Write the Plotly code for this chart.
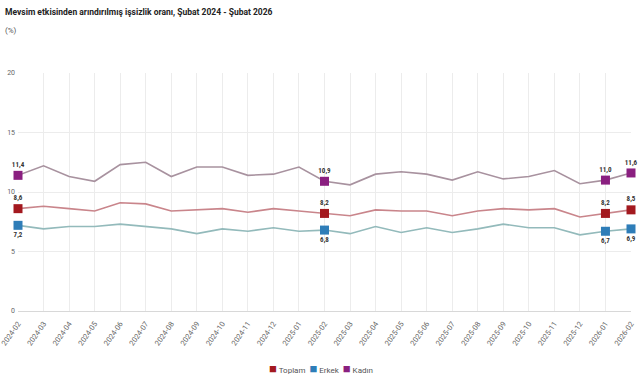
import plotly.graph_objects as go

months = ["2024-02","2024-03","2024-04","2024-05","2024-06","2024-07","2024-08","2024-09",
          "2024-10","2024-11","2024-12","2025-01","2025-02","2025-03","2025-04","2025-05",
          "2025-06","2025-07","2025-08","2025-09","2025-10","2025-11","2025-12","2026-01","2026-02"]
toplam = [8.6,8.8,8.6,8.4,9.1,9.0,8.4,8.5,8.6,8.3,8.6,8.4,8.2,8.0,8.5,8.4,
          8.4,8.0,8.4,8.6,8.5,8.6,7.9,8.2,8.5]
erkek  = [7.2,6.9,7.1,7.1,7.3,7.1,6.9,6.5,6.9,6.7,7.0,6.7,6.8,6.5,7.1,6.6,
          7.0,6.6,6.9,7.3,7.0,7.0,6.4,6.7,6.9]
kadin  = [11.4,12.2,11.3,10.9,12.3,12.5,11.3,12.1,12.1,11.4,11.5,12.1,10.9,10.6,11.5,11.7,
          11.5,11.0,11.7,11.1,11.3,11.8,10.7,11.0,11.6]
labeled_idx = [0, 12, 23, 24]
y_ticks = [0, 5, 10, 15, 20]

series = [
    ("Toplam", toplam, "#c9858b", "#a3191f", "top center"),
    ("Erkek", erkek, "#93babb", "#2e7db8", "bottom center"),
    ("Kadın", kadin, "#a8929f", "#8a1f80", "top center"),
]

fig = go.Figure()
for name, vals, lc, mc, pos in series:
    fig.add_trace(go.Scatter(x=months, y=vals, mode="lines", line=dict(color=lc, width=1.6),
                             showlegend=False, hoverinfo="skip"))
for name, vals, lc, mc, pos in series:
    xs = [months[i] for i in labeled_idx]
    ys = [vals[i] for i in labeled_idx]
    txt = [f"<b>{v:.1f}</b>".replace(".", ",") for v in ys]
    fig.add_trace(go.Scatter(x=xs, y=ys, mode="markers+text", name=name, showlegend=False,
                             marker=dict(symbol="square", size=9, color=mc),
                             text=txt, textposition=pos, cliponaxis=False,
                             textfont=dict(size=7, color="#333333", family="Roboto Condensed, Roboto, sans-serif")))

legend_text = "&nbsp;&nbsp;".join(
    f'<span style="color:{mc}; font-size:13px">■</span> {name}' for name, vals, lc, mc, pos in series)

fig.update_layout(
    width=641, height=380,
    margin=dict(l=18, r=10, t=73, b=69, autoexpand=False),
    paper_bgcolor="white", plot_bgcolor="white",
    font=dict(family="Roboto, sans-serif", size=7, color="#666666"),
    showlegend=False,
    annotations=[
        dict(text="<b>Mevsim etkisinden arındırılmış işsizlik oranı, Şubat 2024 - Şubat 2026</b>",
             xref="paper", yref="paper", x=-0.024, y=1.0, yanchor="middle", xanchor="left",
             yshift=61, showarrow=False, font=dict(size=8.5, color="#222222")),
        dict(text="(%)", xref="paper", yref="paper", x=-0.024, y=1.0, yanchor="middle", xanchor="left",
             yshift=43, showarrow=False, font=dict(size=8, color="#555555")),
        dict(text=legend_text, xref="paper", yref="paper", x=0.494, y=0.0, yanchor="middle",
             xanchor="center", yshift=-57, showarrow=False, font=dict(size=8, color="#555555")),
    ],
)
fig.update_xaxes(type="category", range=[0, 24], showgrid=True, gridcolor="#ececec", gridwidth=1,
                 tickangle=-55, tickfont=dict(size=7.5, color="#666666"), showline=False, ticks="",
                 zeroline=False, automargin=False, ticklabelstandoff=6)
fig.update_yaxes(range=[0, 20], tickvals=y_ticks, showgrid=True, gridcolor="#ececec",
                 tickfont=dict(size=7, color="#666666"), zeroline=True, zerolinecolor="#d8d8d8",
                 zerolinewidth=1, ticks="", ticklabelstandoff=2, automargin=False)

fig.write_html("out.html", config={"displayModeBar": False},
               post_script="document.body.style.margin='0';")
